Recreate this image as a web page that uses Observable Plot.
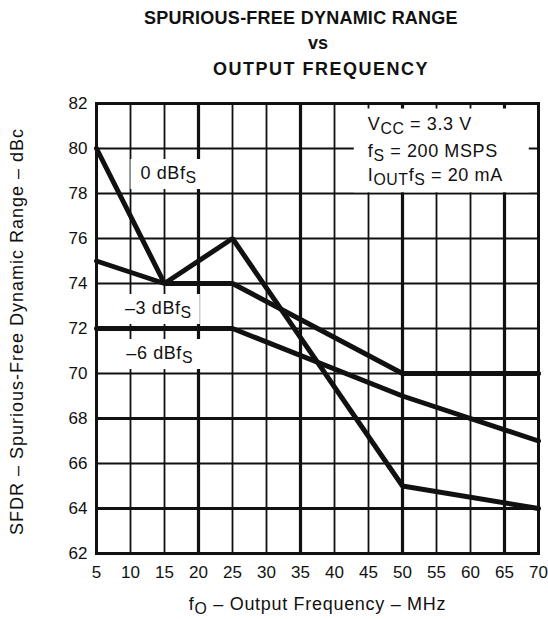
<!DOCTYPE html>
<html><head><meta charset="utf-8">
<script src="https://cdn.jsdelivr.net/npm/d3@7"></script>
<script src="https://cdn.jsdelivr.net/npm/@observablehq/plot@0.6"></script>
<style>
body{margin:0;background:#fff;font-family:"Liberation Sans",Arial,sans-serif;}
#title{height:82px;width:548px;position:relative;font-weight:bold;font-size:18px;color:#111;}
#title div{position:absolute;left:0;width:548px;text-align:center;line-height:18px;white-space:nowrap;}
#chart svg{display:block;}
</style></head><body>
<div id="title"></div>
<div id="chart"></div>
<script>
// ---- data ----
const titleLines = ["SPURIOUS-FREE DYNAMIC RANGE", "vs", "OUTPUT FREQUENCY"];
const curves = ["0 dBfS", "–3 dBfS", "–6 dBfS"];
const freq0 = [5, 15, 25, 50, 70];
const sfdr0 = [80, 74, 76, 65, 64];
const freq3 = [5, 15, 25, 50, 70];
const sfdr3 = [75, 74, 74, 70, 70];
const freq6 = [5, 25, 50, 70];
const sfdr6 = [72, 72, 69, 67];
const curveLabels = ["0 dBf_{S}", "–3 dBf_{S}", "–6 dBf_{S}"];
const curveLabelX = [15.6, 14.1, 14.3];
const curveLabelY = [78.9, 72.9, 70.9];
const conditions = ["V_{CC} = 3.3 V", "f_{S} = 200 MSPS", "I_{OUT}f_{S} = 20 mA"];
const conditionX = [44.9, 44.9, 44.9];
const conditionY = [81.1, 79.9, 78.8];
const xTicks = [5, 10, 15, 20, 25, 30, 35, 40, 45, 50, 55, 60, 65, 70];
const yTicks = [62, 64, 66, 68, 70, 72, 74, 76, 78, 80, 82];
const xGridThick = [20, 35, 50, 65];
const xGridThin = [10, 15, 25, 30, 40, 45, 55, 60];
const yGridThick = [64, 68];
const yGridThin = [66, 70, 72, 74, 76, 78, 80];
const xTitle = "f_{O} – Output Frequency – MHz";
const yTitle = "SFDR – Spurious-Free Dynamic Range – dBc";

// ---- title ----
const titleTops = [9, 34, 60];
const titleShift = [27, 44, 47];
const titleSpacing = ["0.25px", "0px", "1.5px"];
const tdiv = document.getElementById("title");
titleLines.forEach((t, i) => {
  const d = document.createElement("div");
  d.textContent = t;
  d.style.top = titleTops[i] + "px";
  d.style.transform = `translateX(${titleShift[i]}px)`;
  d.style.letterSpacing = titleSpacing[i];
  tdiv.appendChild(d);
});

// ---- table ----
const rows = [];
[[freq0, sfdr0], [freq3, sfdr3], [freq6, sfdr6]].forEach(([fs, vs], k) => {
  fs.forEach((f, i) => rows.push({curve: curves[k], f, v: vs[i]}));
});
const labelRows = curveLabels.map((t, i) => ({t, x: curveLabelX[i], y: curveLabelY[i]}));
const condRows = conditions.map((t, i) => ({t, x: conditionX[i], y: conditionY[i]}));

const ink = "#111";
const chart = Plot.plot({
  width: 548,
  height: 537,
  marginLeft: 96,
  marginRight: 10,
  marginTop: 21,
  marginBottom: 66,
  style: {fontFamily: "'Liberation Sans', Arial, sans-serif", fontSize: "17px", color: ink, background: "#fff"},
  x: {domain: [5, 70]},
  y: {domain: [62, 82]},
  marks: [
    Plot.ruleX(xGridThin, {stroke: ink, strokeWidth: 1.8}),
    Plot.ruleX(xGridThick, {stroke: ink, strokeWidth: 3.2}),
    Plot.ruleY(yGridThin, {stroke: ink, strokeWidth: 1.8}),
    Plot.ruleY(yGridThick, {stroke: ink, strokeWidth: 3.2}),
    Plot.text(condRows, {x: "x", y: "y", text: "t", textAnchor: "start", fill: ink, fontSize: 18}),
    Plot.text(labelRows, {x: "x", y: "y", text: "t", textAnchor: "middle", fill: ink, fontSize: 18}),
    Plot.line(rows, {x: "f", y: "v", z: "curve", stroke: ink, strokeWidth: 5, strokeLinejoin: "miter"}),
    Plot.frame({stroke: ink, strokeWidth: 3}),
    Plot.axisX({ticks: xTicks, tickSize: 0, tickPadding: 12, label: null, tickFormat: d => String(d)}),
    Plot.axisY({ticks: yTicks, tickSize: 0, tickPadding: 9, label: null, tickFormat: d => String(d)}),
    Plot.text([xTitle], {frameAnchor: "bottom", textAnchor: "middle", lineAnchor: "middle", dy: 51, fill: ink, fontSize: 18}),
    Plot.text([yTitle], {frameAnchor: "left", textAnchor: "middle", lineAnchor: "middle", rotate: -90, dx: -79, dy: 3, fill: ink, fontSize: 18})
  ]
});
document.getElementById("chart").appendChild(chart);

// ---- classify in-plot texts ----
const NS = "http://www.w3.org/2000/svg";
const condEls = [], labelEls = [];
chart.querySelectorAll("text").forEach(el => {
  const s = el.textContent;
  if (conditions.includes(s)) { condEls.push(el); el.style.letterSpacing = "0.6px"; }
  else if (curveLabels.includes(s)) { labelEls.push(el); el.style.letterSpacing = "0.6px"; }
  else if (s === xTitle) el.style.letterSpacing = "0.7px";
  else if (s === yTitle) el.style.letterSpacing = "1px";
});

// ---- subscripts ----
chart.querySelectorAll("text").forEach(el => {
  const s = el.textContent;
  if (!s.includes("_{")) return;
  const parts = s.split(/(_\{[^}]*\})/).filter(p => p);
  el.textContent = "";
  let shifted = false;
  for (const p of parts) {
    const t = document.createElementNS(NS, "tspan");
    if (p.startsWith("_{")) {
      t.textContent = p.slice(2, -1);
      t.setAttribute("font-size", "0.88em");
      if (!shifted) { t.setAttribute("dy", "4"); shifted = true; }
    } else {
      t.textContent = p;
      if (shifted) { t.setAttribute("dy", "-4"); shifted = false; }
    }
    el.appendChild(t);
  }
});

// ---- white backdrops behind in-plot texts ----
const sb = chart.getBoundingClientRect();
function backdrop(before, boxes) {
  boxes.forEach(b => {
    const r = document.createElementNS(NS, "rect");
    r.setAttribute("x", b.x1); r.setAttribute("y", b.y1);
    r.setAttribute("width", b.x2 - b.x1); r.setAttribute("height", b.y2 - b.y1);
    r.setAttribute("fill", "#fff");
    before.parentNode.insertBefore(r, before);
  });
}
if (condEls.length) {
  const g = condEls[0].parentNode;
  const rs = condEls.map(t => t.getBoundingClientRect());
  const x1 = d3.min(rs, r => r.left) - sb.left - 14;
  const x2 = d3.max(rs, r => r.right) - sb.left + 26;
  const y1 = d3.min(rs, r => r.top) - sb.top - 5;
  const y2 = d3.max(rs, r => r.bottom) - sb.top + 4;
  backdrop(g, [{x1, x2, y1, y2}]);
}
if (labelEls.length) {
  const g = labelEls[0].parentNode;
  backdrop(g, labelEls.map(t => {
    const r = t.getBoundingClientRect();
    return {x1: r.left - sb.left - 10, x2: r.right - sb.left + 8, y1: r.top - sb.top - 4, y2: r.bottom - sb.top + 3};
  }));
}
</script>
</body></html>
